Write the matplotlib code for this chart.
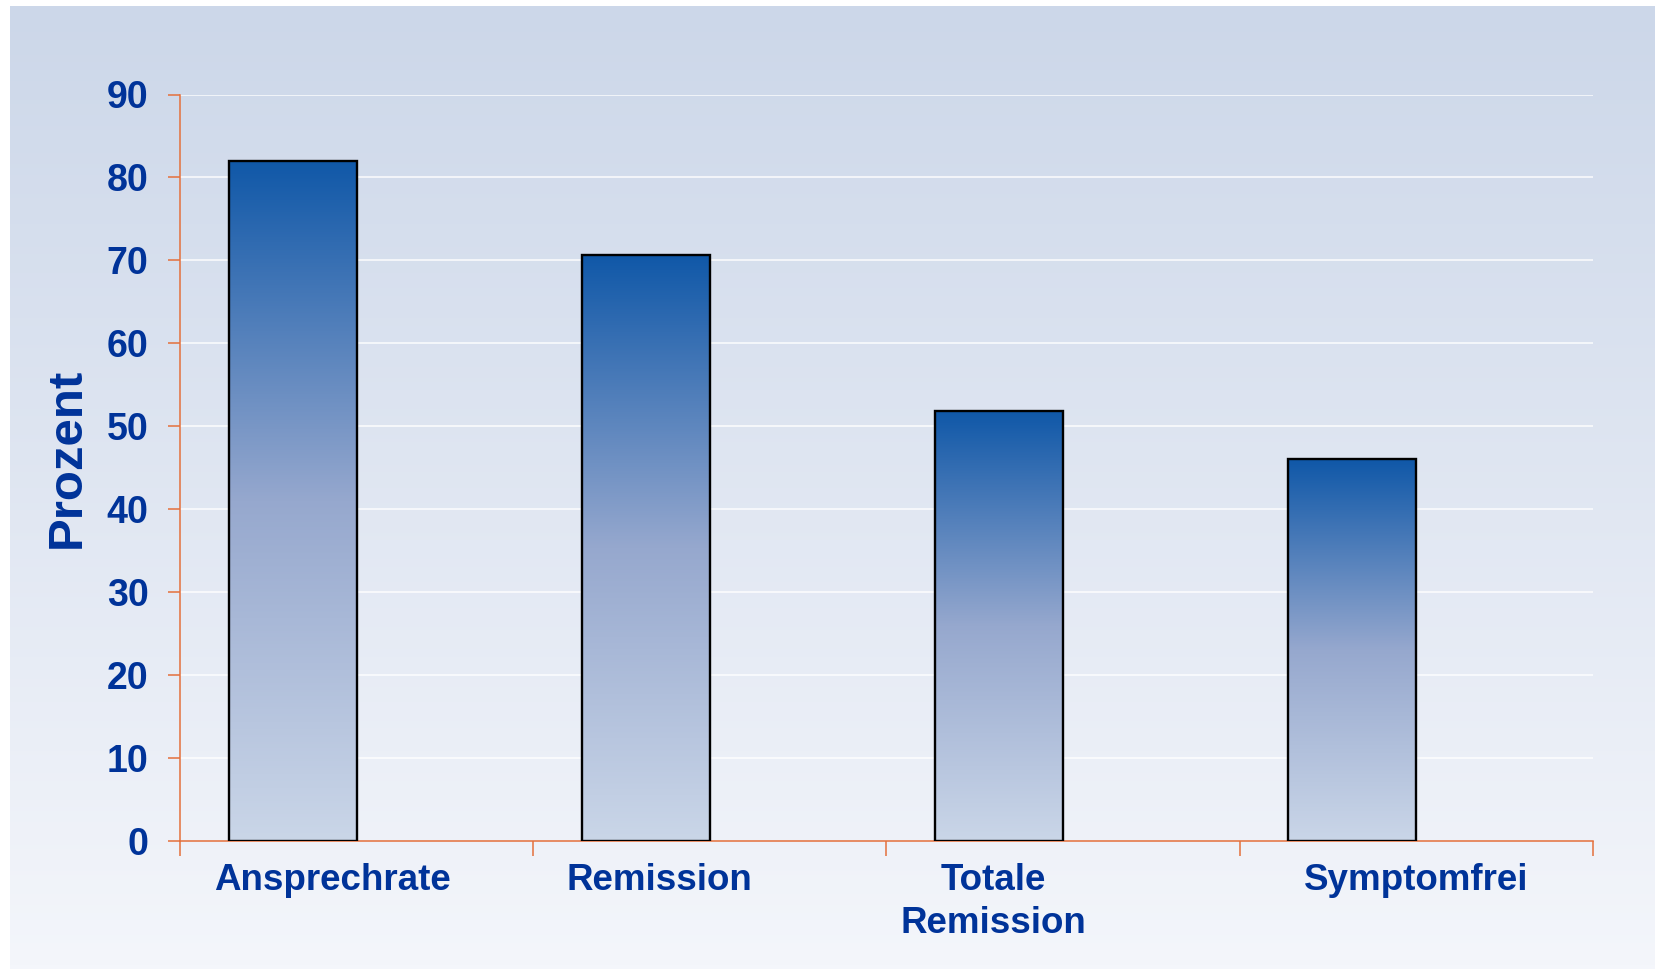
import numpy as np
import matplotlib
matplotlib.use("Agg")
import matplotlib.pyplot as plt
from matplotlib.colors import LinearSegmentedColormap
from matplotlib.patches import Rectangle

# Data
categories = ["Ansprechrate", "Remission", "Totale\nRemission", "Symptomfrei"]
values = [82.0, 70.7, 51.8, 46.0]
y_ticks = [0, 10, 20, 30, 40, 50, 60, 70, 80, 90]
y_label = "Prozent"

# Styling
label_shift = [-0.068, -0.142, -0.198, 0.0]   # horizontal nudge of category labels
bar_width = 0.362
text_color = "#003399"
axis_color = "#E4703C"
font = ["Liberation Sans", "DejaVu Sans"]

W, H, DPI = 1656, 969, 100
fig = plt.figure(figsize=(W / DPI, H / DPI), dpi=DPI, facecolor="white")

# Background panel with a vertical gradient
bg = fig.add_axes([10 / W, 0, 1 - 10 / W, 1 - 6 / H], zorder=0)
bg_cmap = LinearSegmentedColormap.from_list(
    "bg", [(244 / 255, 246 / 255, 251 / 255), (204 / 255, 215 / 255, 233 / 255)])
bg.imshow(np.linspace(0, 1, 256).reshape(-1, 1), aspect="auto", cmap=bg_cmap,
          origin="lower", extent=[0, 1, 0, 1])
bg.set_axis_off()

ax = fig.add_axes([180 / W, 1 - 841 / H, (1593 - 180) / W, (841 - 94.5) / H], zorder=1)
ax.patch.set_alpha(0)

x = np.arange(len(categories))

# Grid lines
for t in y_ticks[1:]:
    ax.axhline(t, color="white", lw=1.2, alpha=0.85, zorder=1)

bar_cmap = LinearSegmentedColormap.from_list(
    "bar", [(202 / 255, 214 / 255, 232 / 255), (150 / 255, 168 / 255, 206 / 255),
            (16 / 255, 88 / 255, 168 / 255)])
grad = np.linspace(0, 1, 256).reshape(-1, 1)

bars = ax.bar(x - bar_width / 2, values, width=bar_width, color="none",
              edgecolor="black", linewidth=1.7, zorder=3)
for b in bars:
    x0, y0 = b.get_x(), b.get_y()
    w, h = b.get_width(), b.get_height()
    im = ax.imshow(grad, aspect="auto", cmap=bar_cmap, origin="lower",
                   extent=[x0, x0 + w, y0, y0 + h], zorder=2)
    clip = Rectangle((x0, y0), w, h, transform=ax.transData)
    im.set_clip_path(clip)
ax.set_xlim(-0.5, len(categories) - 0.5)
ax.set_ylim(0, 90)

# Axes styling
for side in ("top", "right"):
    ax.spines[side].set_visible(False)
for side in ("left", "bottom"):
    ax.spines[side].set_color(axis_color)
    ax.spines[side].set_linewidth(1.1)

ax.set_yticks(y_ticks)
ax.set_yticklabels([str(t) for t in y_ticks])
ax.tick_params(axis="y", direction="out", length=8.6, width=1.1, color=axis_color,
               pad=14, labelsize=27, labelcolor=text_color)
for lbl in ax.get_yticklabels():
    lbl.set_fontfamily(font)
    lbl.set_fontweight("bold")

# Category labels as major ticks, boundary marks as minor ticks
ax.set_xticks(x + np.array(label_shift))
ax.set_xticklabels(categories, fontsize=26.5, fontweight="bold", color=text_color,
                   family=font, linespacing=1.3)
ax.tick_params(axis="x", which="major", length=0, pad=16)
ax.set_xticks(np.arange(-0.5, len(categories), 1.0), minor=True)
ax.tick_params(axis="x", which="minor", direction="out", length=11, width=1.1,
               color=axis_color)

ax.set_ylabel(y_label, fontsize=35.5, fontweight="bold", color=text_color,
              family=font)
ax.yaxis.set_label_coords(-0.064, 0.513)

fig.savefig("out.png", dpi=DPI, facecolor="white")
